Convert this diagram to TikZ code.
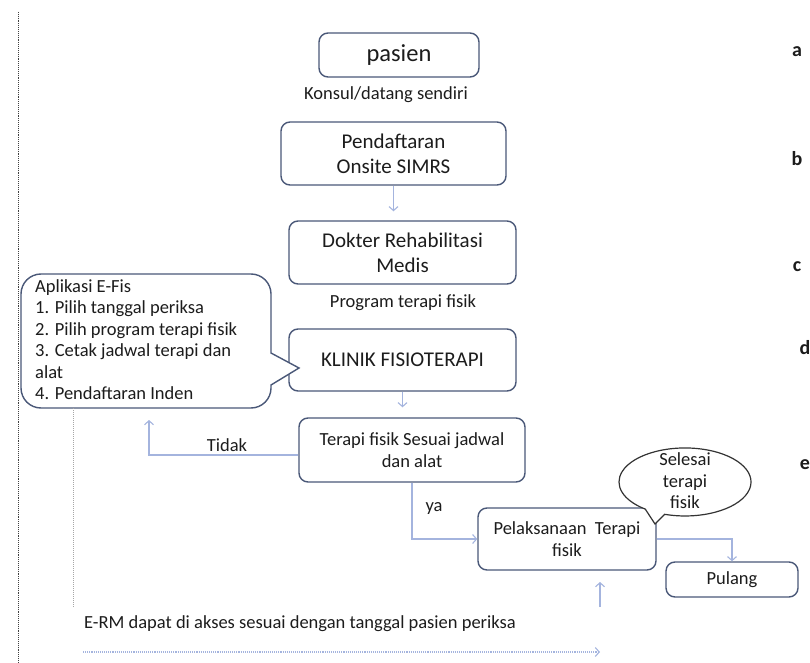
\documentclass[tikz,border=0pt]{standalone}
\usepackage{fontspec}
\setmainfont{Carlito}
\usetikzlibrary{arrows.meta}
\definecolor{boxc}{HTML}{4A5878}
\definecolor{linec}{HTML}{A4B4DE}
\definecolor{txt}{HTML}{1C1C1C}
\begin{document}
\begin{tikzpicture}[x=1pt,y=1pt,
  every node/.style={text=txt, font=\fontsize{18.5}{21.5}\selectfont, inner sep=0pt},
  box/.style={draw=boxc, line width=1.4pt, rounded corners=9pt, fill=white, align=center},
  big/.style={font=\fontsize{21}{25}\selectfont},
  flow/.style={draw=linec, line width=1.1pt, -{Straight Barb[length=4pt,width=9pt]}},
  letter/.style={font=\fontsize{20}{22}\selectfont\bfseries},
  callout/.style={draw=boxc, line width=1.4pt, fill=white}
]
\useasboundingbox (0,0) rectangle (810,662);
% left border
\coordinate (lt) at (18,650);
\coordinate (lb) at (18,0);
\draw[black!75, densely dotted, line width=0.9pt] (lt) -- (lb);

% nodes
\node[box, minimum width=160, minimum height=44, font=\fontsize{24.5}{28}\selectfont] (pas) at (399,607) {pasien};
\node (kon) at (386,567) {Konsul/datang sendiri};
\node[box, big, minimum width=225, minimum height=63] (pend) at (393.5,508.5) {Pendaftaran\\Onsite SIMRS};
\node[box, big, minimum width=227, minimum height=63] (dok) at (402.5,409.5) {Dokter Rehabilitasi\\Medis};
\node (prog) at (403,359) {Program terapi fisik};
\node[box, big, minimum width=227, minimum height=62] (kli) at (402.5,302) {KLINIK FISIOTERAPI};
\node[box, minimum width=226, minimum height=64] (ter) at (412,212) {Terapi fisik Sesuai jadwal\\dan alat};
\node[box, minimum width=178, minimum height=62] (pel) at (567,123) {Pelaksanaan~~Terapi\\fisik};
\node[box, minimum width=132, minimum height=35] (pul) at (732,82.5) {Pulang};

% callout E-Fis
\draw[callout] (41,388) -- (251,388) arc[start angle=90,end angle=0,radius=20]
  -- (271,309) -- (299,294) -- (271,277) -- (271,274)
  arc[start angle=0,end angle=-90,radius=20] -- (41,254)
  arc[start angle=270,end angle=180,radius=20] -- (21,368)
  arc[start angle=180,end angle=90,radius=20] -- cycle;
\node[anchor=north west, align=left] (efis) at (35,383) {Aplikasi E-Fis\\1. Pilih tanggal periksa\\2. Pilih program terapi fisik\\3. Cetak jadwal terapi dan\\alat\\4. Pendaftaran Inden};

% ellipse callout
\draw[draw=black!80, line width=1.2pt, fill=white] (664.6,147.7)
  arc[start angle=252, end angle=593, x radius=66, y radius=34] -- (655,138) -- cycle;
\node[align=center] (sel) at (685,181) {Selesai\\terapi\\fisik};

% connectors
\draw[flow, shorten >=9pt] (pend.south) -- (pend.south |- dok.north);
\draw[flow, shorten >=10pt] (kli.south) -- (kli.south |- ter.north);
\coordinate (tid) at (149,242);
\draw[flow] ([yshift=-5pt]ter.west) -| (tid);
\node (tidak) at (227,217) {Tidak};
\draw[flow] (ter.south) |- (pel.west);
\node (ya) at (434,154) {ya};
\draw[flow] (pel.east) -| (pul.north);
\coordinate (ua) at (600,55);
\coordinate (ub) at (600,80);
\draw[flow] (ua) -- (ub);
\coordinate (ga) at (73,254);
\coordinate (gb) at (73,55);
\draw[black!35, densely dotted, line width=1pt] (ga) -- (gb);
\node[anchor=west] (erm) at (84,38) {E-RM dapat di akses sesuai dengan tanggal pasien periksa};
\coordinate (da) at (83,10);
\coordinate (db) at (600,10);
\draw[flow, densely dotted] (da) -- (db);

% side letters
\node[letter] (la) at (797,610) {a};
\node[letter] (lbb) at (797,503) {b};
\node[letter] (lc) at (797,395) {c};
\node[letter] (ld) at (805,314) {d};
\node[letter] (le) at (805,197) {e};
\end{tikzpicture}
\end{document}
